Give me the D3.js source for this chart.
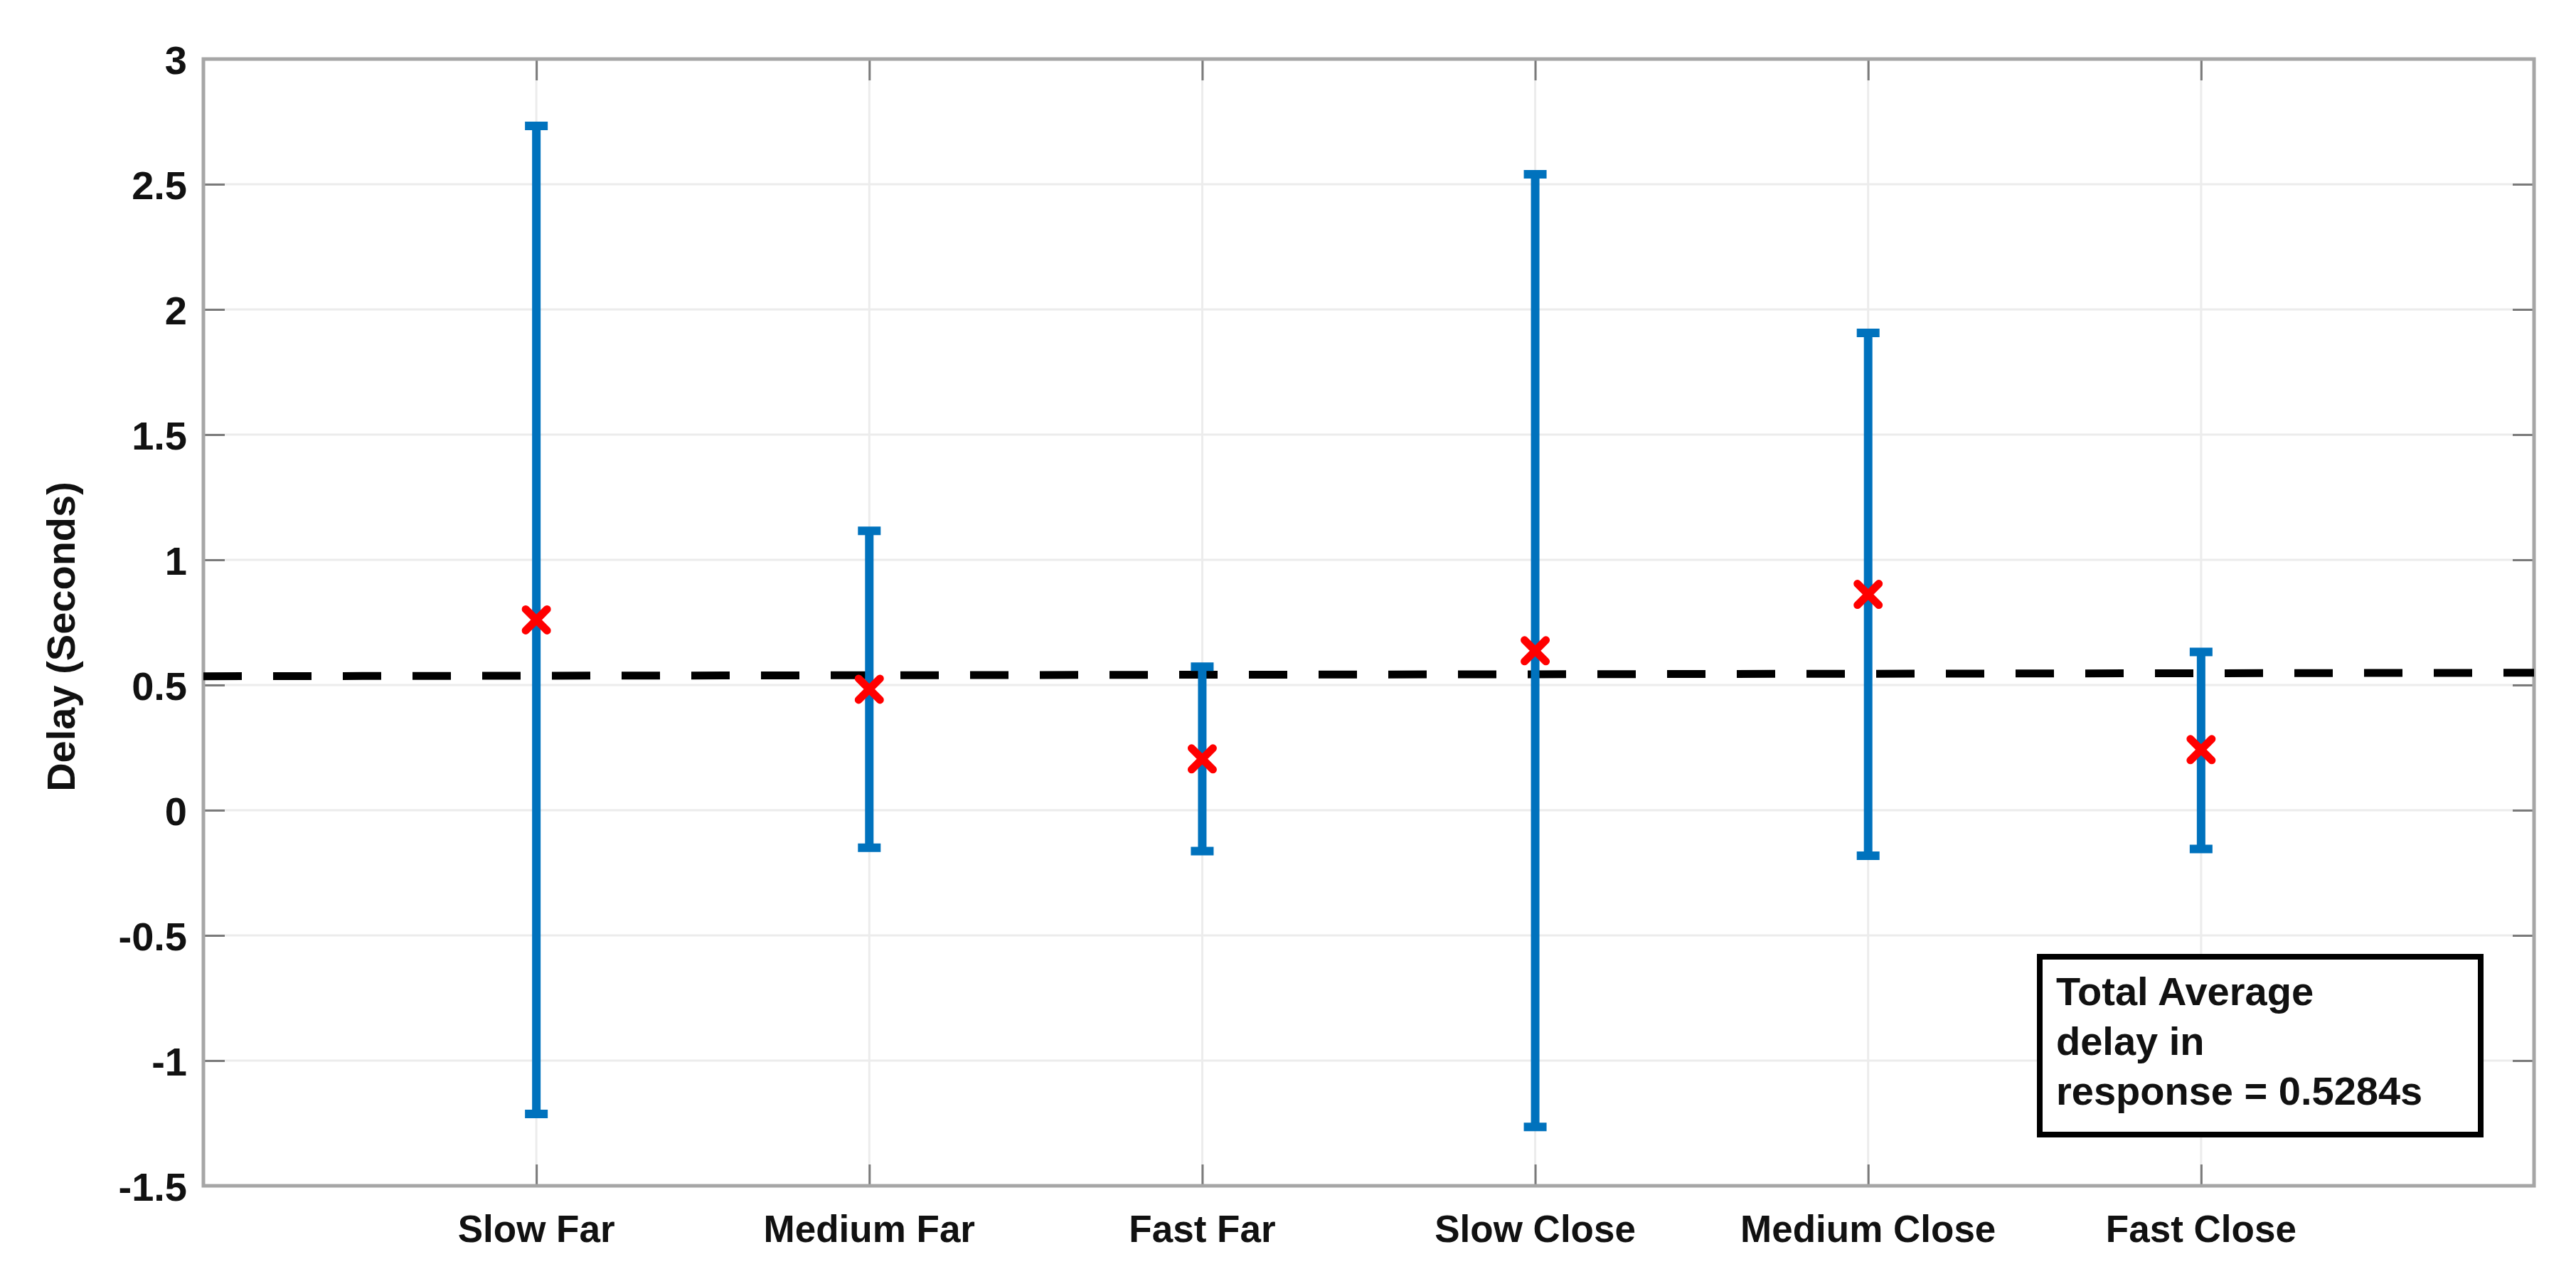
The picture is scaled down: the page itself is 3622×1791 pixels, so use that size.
<!DOCTYPE html>
<html>
<head>
<meta charset="utf-8">
<script src="https://cdn.jsdelivr.net/npm/d3@7"></script>
<style>
  html, body { margin: 0; padding: 0; background: #fff; }
  svg { display: block; }
  text { font-family: "Liberation Sans", Arial, Helvetica, sans-serif; font-weight: bold; fill: #111; }
</style>
</head>
<body>
<svg id="chart" width="3622" height="1791"></svg>
<script>
// ---- data ----
const categories = ["Slow Far", "Medium Far", "Fast Far", "Slow Close", "Medium Close", "Fast Close"];
const means  = [0.760, 0.483, 0.205, 0.637, 0.862, 0.242];
const lowers = [-1.213, -0.150, -0.163, -1.265, -0.182, -0.155];
const uppers = [2.733, 1.116, 0.573, 2.540, 1.906, 0.632];
const yTicks = [-1.5, -1, -0.5, 0, 0.5, 1, 1.5, 2, 2.5, 3];
const yTickLabels = ["-1.5", "-1", "-0.5", "0", "0.5", "1", "1.5", "2", "2.5", "3"];
const avgLineX = [0, 7];
const avgLineY = [0.535, 0.549];
const yLabel = "Delay (Seconds)";
const noteLines = ["Total Average", "delay in", "response = 0.5284s"];

// ---- layout ----
const svg = d3.select("#chart");
const L = 286, R = 3563, T = 83, B = 1667;

const x = d3.scaleLinear().domain([0, 7]).range([L, R]);
const y = d3.scaleLinear().domain([-1.5, 3]).range([B, T]);
const catX = i => x(i + 1);

// gridlines
const grid = svg.append("g");
grid.selectAll("line.h").data(yTicks).join("line")
  .attr("x1", L).attr("x2", R)
  .attr("y1", d => y(d)).attr("y2", d => y(d))
  .attr("stroke", "#ececec").attr("stroke-width", 3);
grid.selectAll("line.v").data(categories).join("line")
  .attr("x1", (d, i) => catX(i)).attr("x2", (d, i) => catX(i))
  .attr("y1", T).attr("y2", B)
  .attr("stroke", "#ececec").attr("stroke-width", 3);

// axes (MATLAB-style box with inward ticks)
const tickLen = 30;
const yAxisL = d3.axisRight(y).tickValues(yTicks).tickSize(tickLen).tickFormat("");
const yAxisR = d3.axisLeft(y).tickValues(yTicks).tickSize(tickLen).tickFormat("");
const xAxisB = d3.axisTop(x).tickValues(d3.range(1, 7)).tickSize(tickLen).tickFormat("");
const xAxisT = d3.axisBottom(x).tickValues(d3.range(1, 7)).tickSize(tickLen).tickFormat("");

function styleAxis(g) {
  g.select(".domain").remove();
  g.selectAll(".tick line").attr("stroke", "#7a7a7a").attr("stroke-width", 3);
}
svg.append("g").attr("transform", `translate(${L},0)`).call(yAxisL).call(styleAxis);
svg.append("g").attr("transform", `translate(${R},0)`).call(yAxisR).call(styleAxis);
svg.append("g").attr("transform", `translate(0,${B})`).call(xAxisB).call(styleAxis);
svg.append("g").attr("transform", `translate(0,${T})`).call(xAxisT).call(styleAxis);

svg.append("rect")
  .attr("x", L).attr("y", T).attr("width", R - L).attr("height", B - T)
  .attr("fill", "none").attr("stroke", "#a6a6a6").attr("stroke-width", 5);

// y tick labels
svg.append("g").selectAll("text").data(yTicks).join("text")
  .attr("x", 263).attr("y", d => y(d) + 21)
  .attr("text-anchor", "end").attr("font-size", 56)
  .text((d, i) => yTickLabels[i]);

// x category labels
svg.append("g").selectAll("text").data(categories).join("text")
  .attr("x", (d, i) => catX(i)).attr("y", 1746)
  .attr("text-anchor", "middle").attr("font-size", 53)
  .text(d => d);

// y axis label
svg.append("text")
  .attr("transform", `translate(105,${(T + B) / 2 + 20}) rotate(-90)`)
  .attr("text-anchor", "middle").attr("font-size", 56)
  .text(yLabel);

// dashed average line
const avgPts = avgLineX.map((v, i) => [x(v), y(avgLineY[i])]);
svg.append("path")
  .attr("d", d3.line()(avgPts))
  .attr("stroke", "#000").attr("stroke-width", 11)
  .attr("stroke-dasharray", "54,44").attr("fill", "none");

// error bars
const blue = "#0072BD";
const eb = svg.append("g");
categories.forEach((c, i) => {
  const cx = catX(i);
  eb.append("line")
    .attr("x1", cx).attr("x2", cx)
    .attr("y1", y(uppers[i])).attr("y2", y(lowers[i]))
    .attr("stroke", blue).attr("stroke-width", 12);
  [uppers[i], lowers[i]].forEach(v => {
    eb.append("line")
      .attr("x1", cx - 10).attr("x2", cx + 10)
      .attr("y1", y(v)).attr("y2", y(v))
      .attr("stroke", blue).attr("stroke-width", 12)
      .attr("stroke-linecap", "square");
  });
});

// red X markers
const ms = 15;
const mk = svg.append("g");
means.forEach((m, i) => {
  const cx = catX(i), cy = y(m);
  mk.append("path")
    .attr("d", `M${cx - ms},${cy - ms}L${cx + ms},${cy + ms}M${cx - ms},${cy + ms}L${cx + ms},${cy - ms}`)
    .attr("stroke", "#ff0000").attr("stroke-width", 11).attr("stroke-linecap", "round")
    .attr("fill", "none");
});

// annotation box
const box = svg.append("g");
box.append("rect")
  .attr("x", 2868).attr("y", 1345).attr("width", 620).attr("height", 250)
  .attr("fill", "#fff").attr("stroke", "#000").attr("stroke-width", 8);
box.selectAll("text").data(noteLines).join("text")
  .attr("x", 2891).attr("y", (d, i) => 1413 + i * 70)
  .attr("font-size", 56)
  .text(d => d);
</script>
</body>
</html>
